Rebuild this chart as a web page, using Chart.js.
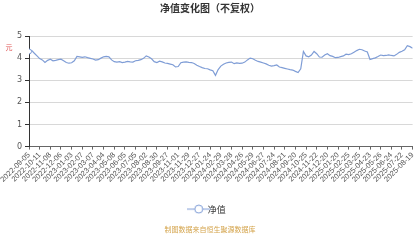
<!DOCTYPE html>
<html><head><meta charset="utf-8">
<script src="https://cdn.jsdelivr.net/npm/chart.js@4.4.1/dist/chart.umd.min.js"></script>
<style>html,body{margin:0;padding:0;background:#fff}canvas{display:block}</style>
</head><body>
<canvas id="c" width="420" height="240"></canvas>
<script>
const tickLabels = ["2022-09-05","2022-10-11","2022-11-08","2022-12-06","2023-01-03","2023-02-07","2023-03-07","2023-04-04","2023-05-08","2023-06-05","2023-07-05","2023-08-02","2023-08-30","2023-09-27","2023-11-01","2023-11-29","2023-12-27","2024-01-24","2024-02-29","2024-03-28","2024-04-26","2024-05-29","2024-06-27","2024-07-24","2024-08-21","2024-09-20","2024-10-25","2024-11-22","2024-12-20","2025-01-20","2025-02-25","2025-03-25","2025-04-23","2025-05-26","2025-06-24","2025-07-22","2025-08-19"];
const pointsPerLabel = 4;
const navValues = [4.30,4.35,4.22,4.10,3.98,3.92,3.80,3.90,3.95,3.88,3.90,3.93,3.95,3.88,3.80,3.77,3.79,3.88,4.08,4.06,4.03,4.06,4.02,3.99,3.96,3.91,3.93,4.00,4.06,4.08,4.06,3.92,3.84,3.82,3.84,3.80,3.82,3.85,3.83,3.82,3.88,3.90,3.93,3.99,4.10,4.05,3.97,3.84,3.80,3.86,3.83,3.78,3.76,3.73,3.70,3.60,3.62,3.79,3.82,3.83,3.81,3.80,3.76,3.68,3.62,3.57,3.53,3.52,3.47,3.43,3.22,3.48,3.64,3.72,3.78,3.81,3.82,3.75,3.78,3.76,3.77,3.82,3.92,4.00,3.97,3.90,3.85,3.82,3.78,3.74,3.68,3.64,3.66,3.69,3.60,3.57,3.54,3.51,3.48,3.46,3.40,3.35,3.52,4.30,4.10,4.06,4.14,4.30,4.20,4.05,4.04,4.14,4.20,4.11,4.08,4.02,4.03,4.07,4.10,4.18,4.16,4.20,4.27,4.34,4.40,4.38,4.32,4.28,3.94,3.98,4.01,4.07,4.14,4.11,4.12,4.15,4.12,4.10,4.17,4.26,4.31,4.38,4.56,4.52,4.45];
const yTicks = [0,1,2,3,4,5];
const seriesName = "净值";
const unitLabel = "元";
const titleText = "净值变化图（不复权）";
const footerText = "制图数据来自恒生聚源数据库";

const lineColor = '#7f9dd6';
const pts = navValues.map((v,i)=>({x:i, y:v}));

const icon = document.createElement('canvas');
icon.width = 24; icon.height = 10;
(function(){const g=icon.getContext('2d');g.strokeStyle=lineColor;g.lineWidth=1;g.beginPath();g.moveTo(0,5);g.lineTo(24,5);g.stroke();g.fillStyle='#fff';g.beginPath();g.arc(12,5,4,0,Math.PI*2);g.fill();g.stroke();})();

const unitPlugin = {
  id:'unitLabel',
  afterDraw(chart){
    const g=chart.ctx, y=chart.scales.y, a=chart.chartArea;
    g.save();g.fillStyle='#e05a5a';g.font='7px "Noto Sans CJK SC"';g.textAlign='center';g.textBaseline='middle';
    g.fillText(unitLabel, a.left-20, y.getPixelForValue(4.5));
    g.restore();
  }
};

new Chart(document.getElementById('c'), {
  type:'line',
  data:{datasets:[{label:seriesName,data:pts,borderColor:lineColor,backgroundColor:'#fff',borderWidth:1.2,
    pointRadius:ctx=>ctx.dataIndex===0?2.5:0,pointBorderWidth:1,pointBackgroundColor:'#fff',pointBorderColor:lineColor,
    pointStyle:'circle',tension:0}]},
  options:{
    responsive:false,animation:false,
    layout:{padding:{left:1,right:1,top:0,bottom:2}},
    plugins:{
      title:{display:true,text:titleText,color:'#333',font:{family:'"Noto Sans CJK SC"',size:10,weight:'bold'},padding:{top:2,bottom:22}},
      subtitle:{display:true,position:'bottom',text:footerText,color:'#d4a44c',font:{family:'"Noto Sans CJK SC"',size:7},padding:{top:2,bottom:4}},
      legend:{position:'bottom',labels:{usePointStyle:true,pointStyle:icon,color:'#333',font:{family:'"Noto Sans CJK SC"',size:9},padding:6,boxHeight:10}},
      tooltip:{enabled:false}
    },
    scales:{
      x:{type:'linear',min:0,max:(tickLabels.length-1)*pointsPerLabel,
        afterBuildTicks(s){s.ticks=tickLabels.map((_,i)=>({value:i*pointsPerLabel}));},
        afterFit(s){s.height=52;},
        ticks:{autoSkip:false,minRotation:45,maxRotation:45,color:'#555',font:{family:'"Liberation Sans"',size:7.5},padding:1,
          callback:(v,i)=>tickLabels[i]},
        grid:{drawOnChartArea:false,drawTicks:true,tickLength:3,tickColor:'#666'},
        border:{color:'#666',width:1}
      },
      y:{min:0,max:5,
        afterBuildTicks(s){s.ticks=yTicks.map(v=>({value:v}));},
        afterFit(s){s.width=28;},
        ticks:{color:'#555',font:{family:'"DejaVu Sans"',size:8},padding:3},
        grid:{color:'#d8d8d8',borderDash:[3,3],tickLength:4,tickColor:'#333',tickBorderDash:[]},
        border:{color:'#333',width:1}
      }
    }
  },
  plugins:[unitPlugin]
});
</script>
</body></html>
